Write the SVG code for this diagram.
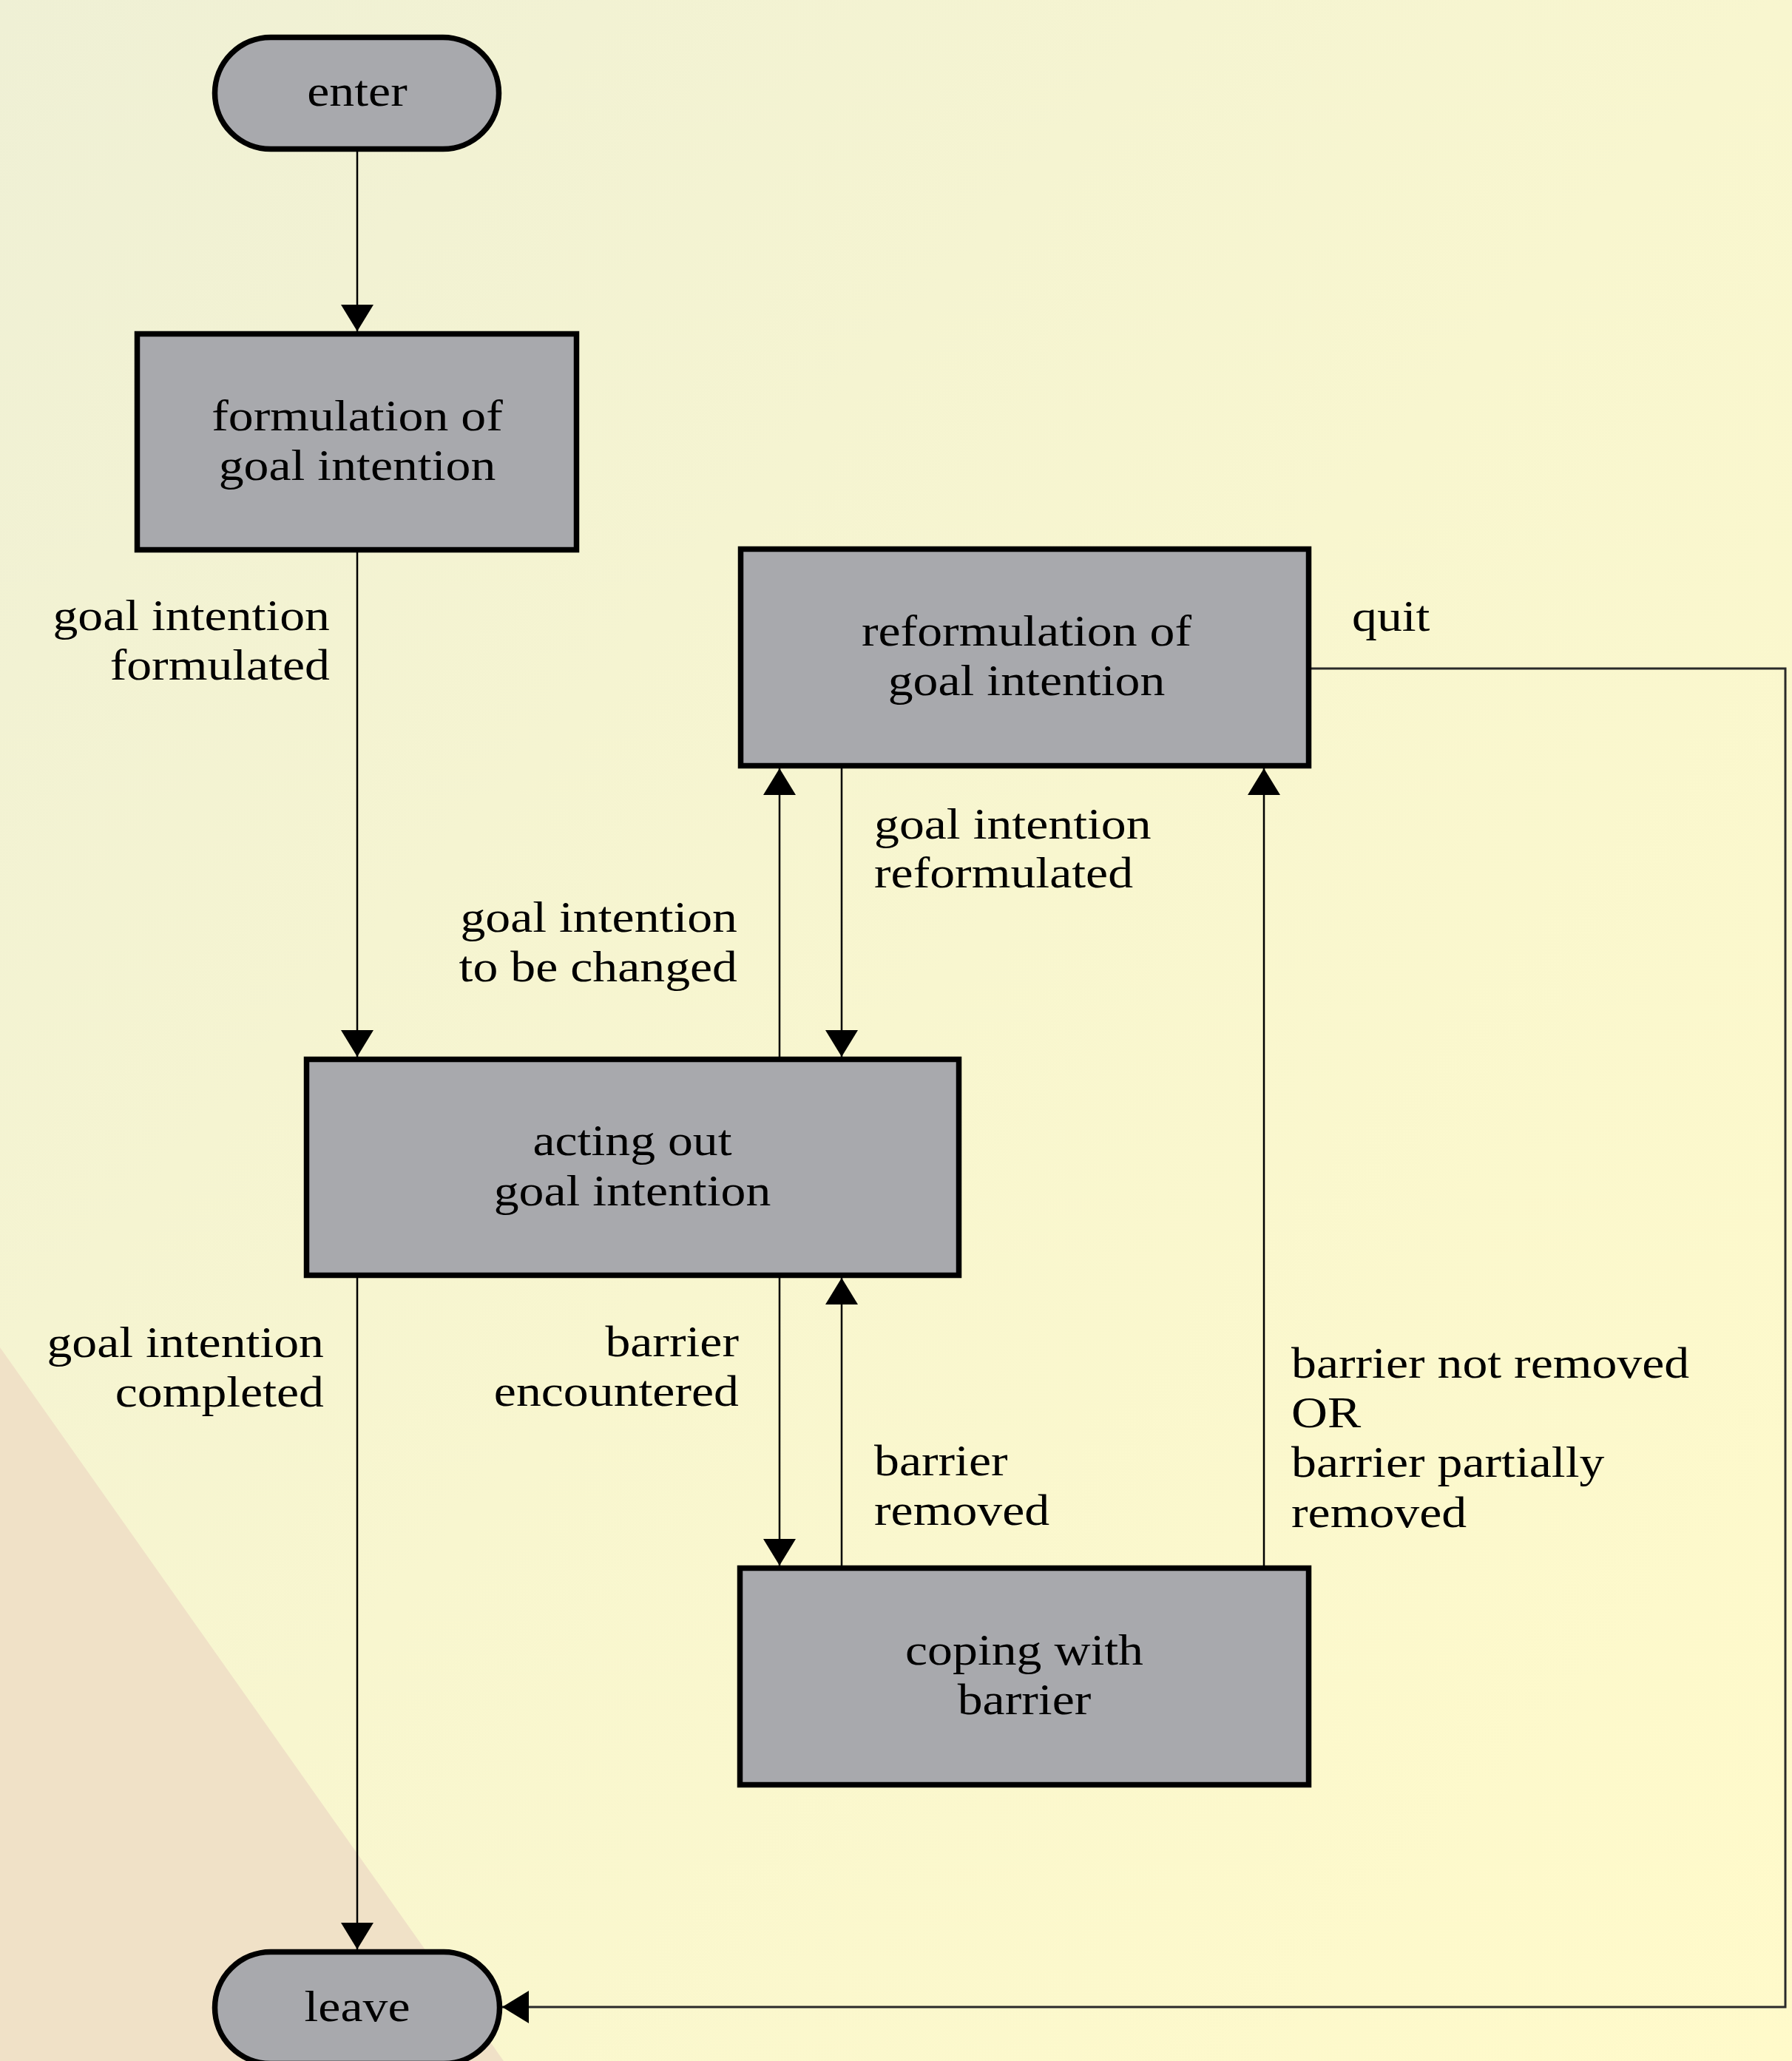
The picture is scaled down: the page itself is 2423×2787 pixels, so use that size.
<svg xmlns="http://www.w3.org/2000/svg" width="2423" height="2787" viewBox="0 0 2423 2787">
<defs>
<linearGradient id="bg" x1="0" y1="0" x2="1" y2="1">
<stop offset="0" stop-color="#EFF0D5"/>
<stop offset="0.5" stop-color="#F8F6CF"/>
<stop offset="1" stop-color="#FFFACA"/>
</linearGradient>
<marker id="arr" markerUnits="userSpaceOnUse" markerWidth="36" markerHeight="44" viewBox="0 0 36 44" refX="36" refY="22" orient="auto">
<path d="M0,0 L36,22 L0,44 z" fill="#000"/>
</marker>
<style>
.node{fill:#A8A9AD;stroke:#000;stroke-width:7.5}
.t{font-family:"Liberation Serif","Times New Roman",serif;font-size:60px;fill:#000}
.c{text-anchor:middle}
.e{text-anchor:end}
.conn{fill:none;stroke:#000;stroke-width:2.5}
.quit{fill:none;stroke:#2a2a2a;stroke-width:3}
</style>
</defs>
<rect x="0" y="0" width="2423" height="2787" fill="url(#bg)"/>
<polygon points="0,1822 681,2787 0,2787" fill="#F0E1C7"/>

<g id="connectors">
<line class="conn" x1="483" y1="205" x2="483" y2="448" marker-end="url(#arr)"/>
<line class="conn" x1="483" y1="747" x2="483" y2="1429" marker-end="url(#arr)"/>
<line class="conn" x1="483" y1="1728" x2="483" y2="2636" marker-end="url(#arr)"/>
<line class="conn" x1="1054" y1="1429" x2="1054" y2="1039" marker-end="url(#arr)"/>
<line class="conn" x1="1138" y1="1039" x2="1138" y2="1429" marker-end="url(#arr)"/>
<line class="conn" x1="1054" y1="1728" x2="1054" y2="2117" marker-end="url(#arr)"/>
<line class="conn" x1="1138" y1="2117" x2="1138" y2="1728" marker-end="url(#arr)"/>
<line class="conn" x1="1709" y1="2117" x2="1709" y2="1039" marker-end="url(#arr)"/>
<polyline class="quit" points="1773,904 2414,904 2414,2714 679,2714" marker-end="url(#arr)"/>
<g class="t">
<text class="e" transform="translate(446 852) scale(1.13 1)">goal intention</text>
<text class="e" transform="translate(446 919) scale(1.13 1)">formulated</text>
<text class="e" transform="translate(997 1260) scale(1.13 1)">goal intention</text>
<text class="e" transform="translate(997 1327) scale(1.13 1)">to be changed</text>
<text transform="translate(1182 1134) scale(1.13 1)">goal intention</text>
<text transform="translate(1182 1200) scale(1.13 1)">reformulated</text>
<text transform="translate(1828 853) scale(1.13 1)">quit</text>
<text class="e" transform="translate(438 1835) scale(1.13 1)">goal intention</text>
<text class="e" transform="translate(438 1902) scale(1.13 1)">completed</text>
<text class="e" transform="translate(999 1834) scale(1.13 1)">barrier</text>
<text class="e" transform="translate(999 1901) scale(1.13 1)">encountered</text>
<text transform="translate(1182 1995) scale(1.13 1)">barrier</text>
<text transform="translate(1182 2062) scale(1.13 1)">removed</text>
<text transform="translate(1746 1863) scale(1.13 1)">barrier not removed</text>
<text transform="translate(1746 1930) scale(1.13 1)">OR</text>
<text transform="translate(1746 1997) scale(1.13 1)">barrier partially</text>
<text transform="translate(1746 2065) scale(1.13 1)">removed</text>
</g>
</g>

<g id="enter">
<rect class="node" x="290.5" y="50.5" width="384" height="151" rx="75.5" ry="75.5"/>
<text class="t c" transform="translate(483 143) scale(1.13 1)">enter</text>
</g>
<g id="formulation">
<rect class="node" x="185.5" y="451.5" width="594" height="292"/>
<text class="t c" transform="translate(483 582) scale(1.13 1)">formulation of</text>
<text class="t c" transform="translate(483 649) scale(1.13 1)">goal intention</text>
</g>
<g id="reformulation">
<rect class="node" x="1001.5" y="742.5" width="768" height="293"/>
<text class="t c" transform="translate(1388 873) scale(1.13 1)">reformulation of</text>
<text class="t c" transform="translate(1388 940) scale(1.13 1)">goal intention</text>
</g>
<g id="acting">
<rect class="node" x="414.5" y="1432.5" width="882" height="292"/>
<text class="t c" transform="translate(855 1562) scale(1.13 1)">acting out</text>
<text class="t c" transform="translate(855 1630) scale(1.13 1)">goal intention</text>
</g>
<g id="coping">
<rect class="node" x="1000.5" y="2120.5" width="769" height="293"/>
<text class="t c" transform="translate(1385 2251) scale(1.13 1)">coping with</text>
<text class="t c" transform="translate(1385 2318) scale(1.13 1)">barrier</text>
</g>
<g id="leave">
<rect class="node" x="290.5" y="2639.5" width="385" height="151" rx="75.5" ry="75.5"/>
<text class="t c" transform="translate(483 2733) scale(1.13 1)">leave</text>
</g>
</svg>
